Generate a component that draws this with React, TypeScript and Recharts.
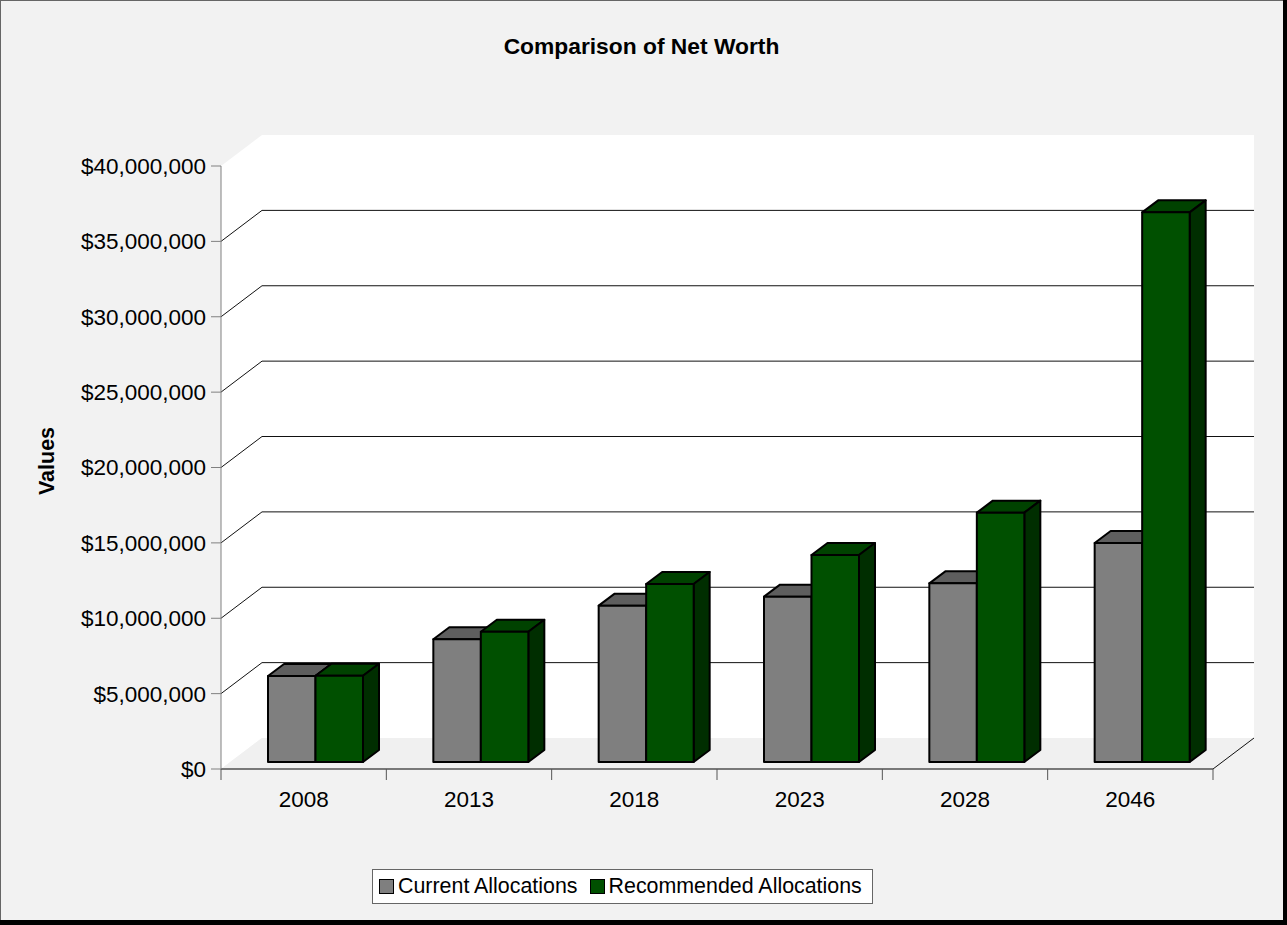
import React from 'react';
import { BarChart, Bar, XAxis, YAxis, ReferenceArea, Legend } from 'recharts';

const years = ['2008', '2013', '2018', '2023', '2028', '2046'];
const currentAllocations = [5700000, 8140000, 10370000, 10970000, 11850000, 14530000];
const recommendedAllocations = [5720000, 8640000, 11810000, 13730000, 16540000, 36460000];
const valueTicks = [0, 5000000, 10000000, 15000000, 20000000, 25000000, 30000000, 35000000, 40000000];

const data = years.map((year, i) => ({
  year,
  current: currentAllocations[i],
  recommended: recommendedAllocations[i],
}));

const W = 1287;
const H = 925;
const FONT = '"Liberation Sans", Arial, Helvetica, sans-serif';

// 3d look: walls pushed back, bars sit a little way into the floor
const WALL_DX = 41;
const WALL_DY = -31;
const BAR_SHIFT_X = 12;
const BAR_SHIFT_Y = -7;
const BAR_DX = 16;
const BAR_DY = -12;
const PLOT_W = 992;
const BAND = PLOT_W / years.length;

const money = (v: number) => '$' + v.toLocaleString('en-US');

function makeBox(front: string, top: string, side: string) {
  return (props: any) => {
    const { x, y, width, height } = props;
    if (width == null || height == null || isNaN(y)) return null;
    const fx = x + BAR_SHIFT_X;
    const fy = y + BAR_SHIFT_Y;
    const bx = fx + BAR_DX;
    const by = fy + BAR_DY;
    return (
      <g stroke="#000" strokeWidth={2} strokeLinejoin="round">
        <polygon points={`${fx},${fy} ${bx},${by} ${bx + width},${by} ${fx + width},${fy}`} fill={top} />
        <polygon
          points={`${fx + width},${fy} ${bx + width},${by} ${bx + width},${by + height} ${fx + width},${fy + height}`}
          fill={side}
        />
        <rect x={fx} y={fy} width={width} height={height} fill={front} />
      </g>
    );
  };
}

const greyBox = makeBox('#7f7f7f', '#5e5e5e', '#4a4a4a');
const greenBox = makeBox('#005000', '#004200', '#002e00');

function Walls(props: any) {
  const { x, y, width, height } = props;
  const x2 = x + width;
  const y2 = y + height;
  const max = valueTicks[valueTicks.length - 1];
  const gridYs = valueTicks.slice(1, -1).map((v) => y2 - (v / max) * height);
  return (
    <g>
      <polygon
        points={`${x},${y} ${x + WALL_DX},${y + WALL_DY} ${x + WALL_DX},${y2 + WALL_DY} ${x},${y2}`}
        fill="#ffffff"
      />
      <rect x={x + WALL_DX} y={y + WALL_DY} width={width} height={height} fill="#ffffff" />
      <polygon
        points={`${x},${y2} ${x + WALL_DX},${y2 + WALL_DY} ${x2 + WALL_DX},${y2 + WALL_DY} ${x2},${y2}`}
        fill="#f0f0f0"
      />
      {gridYs.map((gy, i) => (
        <polyline
          key={i}
          points={`${x},${gy} ${x + WALL_DX},${gy + WALL_DY} ${x2 + WALL_DX},${gy + WALL_DY}`}
          fill="none"
          stroke="#111"
          strokeWidth={1}
        />
      ))}
      <line x1={x2} y1={y2} x2={x2 + WALL_DX} y2={y2 + WALL_DY} stroke="#111" strokeWidth={1} />
    </g>
  );
}

function YearTick(props: any) {
  const { x, y, payload, index } = props;
  const left = x - BAND / 2;
  return (
    <g>
      <line x1={left} y1={y} x2={left} y2={y + 11} stroke="#555" />
      {index === years.length - 1 && <line x1={left + BAND} y1={y} x2={left + BAND} y2={y + 11} stroke="#555" />}
      <text x={x} y={y + 38} textAnchor="middle" fontSize={22.5} fontFamily={FONT} fill="#000">
        {payload.value}
      </text>
    </g>
  );
}

function LegendBox(props: any) {
  const items = props.payload || [];
  return (
    <div
      style={{
        boxSizing: 'border-box',
        width: 501,
        height: 35,
        border: '1px solid #666',
        background: '#fff',
        display: 'flex',
        alignItems: 'center',
        paddingLeft: 6,
        fontFamily: FONT,
        fontSize: 21.4,
        color: '#000',
        whiteSpace: 'nowrap',
      }}
    >
      {items.map((it: any, i: number) => (
        <span key={i} style={{ display: 'flex', alignItems: 'center', marginRight: 12 }}>
          <span
            style={{
              display: 'inline-block',
              boxSizing: 'border-box',
              width: 15,
              height: 15,
              background: it.color,
              border: '1.5px solid #000',
              marginRight: 4,
            }}
          />
          {it.value}
        </span>
      ))}
    </div>
  );
}

export default function App() {
  return (
    <div style={{ position: 'relative', width: W, height: H, background: '#000', fontFamily: FONT }}>
      <style>{'body{margin:0}'}</style>
      <div
        style={{
          position: 'absolute',
          left: 0,
          top: 0,
          width: 1283,
          height: 920,
          boxSizing: 'border-box',
          background: '#f2f2f2',
          borderLeft: '1px solid #666',
          borderTop: '1px solid #666',
        }}
      />
      <div style={{ position: 'absolute', left: 0, top: 0 }}>
        <BarChart width={W} height={H} data={data} margin={{ top: 166, right: 74, bottom: 0, left: 0 }} barGap={0}>
          <ReferenceArea y1={0} y2={40000000} shape={Walls} />
          <XAxis
            dataKey="year"
            height={156}
            tickLine={false}
            tickSize={0}
            tickMargin={0}
            axisLine={{ stroke: '#000' }}
            tick={<YearTick />}
            interval={0}
          />
          <YAxis
            width={221}
            domain={[0, 40000000]}
            ticks={valueTicks}
            interval={0}
            tickFormatter={money}
            tickSize={10}
            tickMargin={5}
            axisLine={{ stroke: '#808080' }}
            tickLine={{ stroke: '#808080' }}
            tick={{ fontSize: 22.5, fill: '#000', fontFamily: FONT }}
          />
          <Bar
            dataKey="current"
            name="Current Allocations"
            fill="#7f7f7f"
            barSize={47.5}
            shape={greyBox}
            isAnimationActive={false}
          />
          <Bar
            dataKey="recommended"
            name="Recommended Allocations"
            fill="#005000"
            barSize={47.5}
            shape={greenBox}
            isAnimationActive={false}
          />
          <Legend
            layout="horizontal"
            verticalAlign="middle"
            align="center"
            content={<LegendBox />}
            wrapperStyle={{ left: 372, top: 869, width: 501, height: 35 }}
          />
        </BarChart>
      </div>
      <svg
        width={W}
        height={H}
        style={{ position: 'absolute', left: 0, top: 0, pointerEvents: 'none' }}
      >
        <text x={641.5} y={54} textAnchor="middle" fontSize={22.8} fontWeight="bold" fontFamily={FONT} fill="#000">
          Comparison of Net Worth
        </text>
        <text
          x={54}
          y={461}
          transform="rotate(-90, 54, 461)"
          textAnchor="middle"
          fontSize={21.5}
          fontWeight="bold"
          fontFamily={FONT}
          fill="#000"
        >
          Values
        </text>
      </svg>
    </div>
  );
}
